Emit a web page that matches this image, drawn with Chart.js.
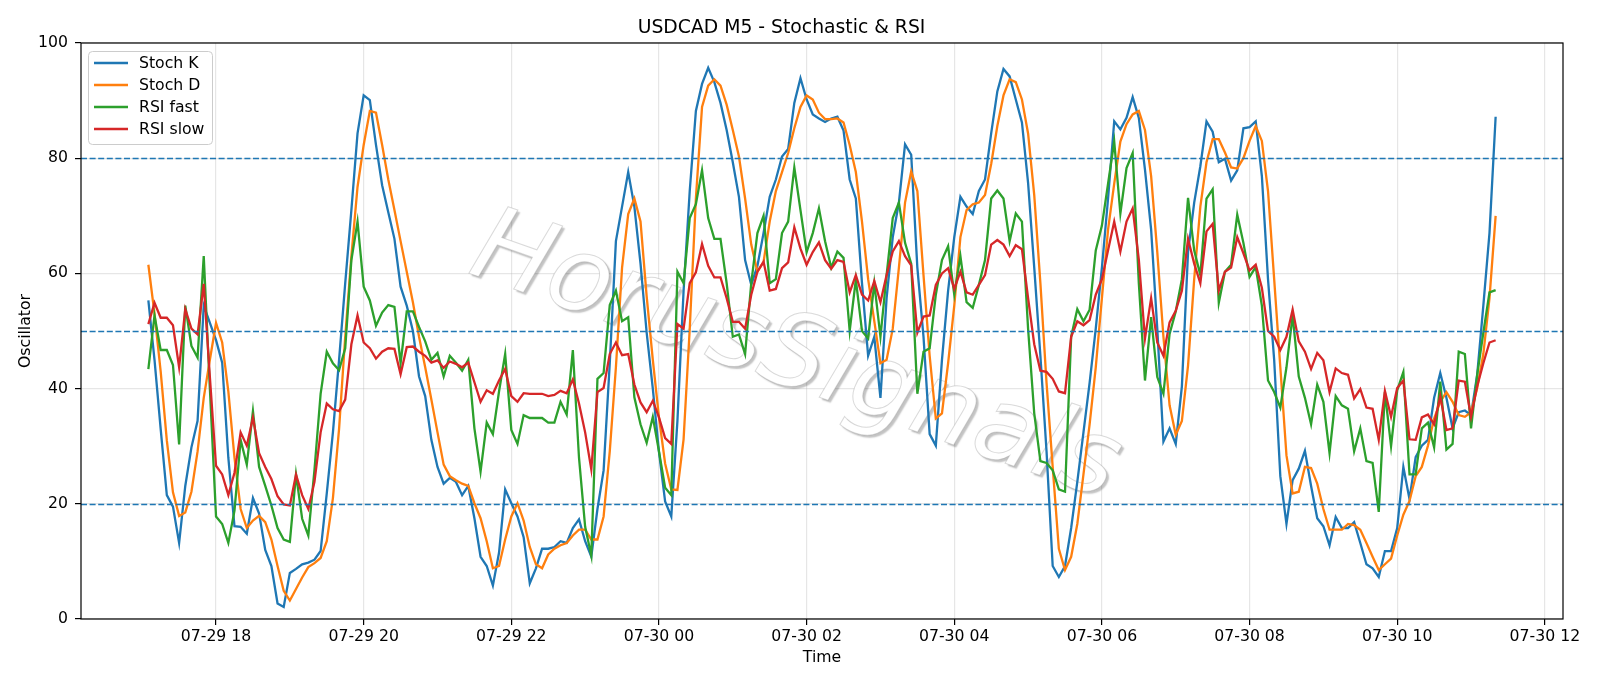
<!DOCTYPE html>
<html><head><meta charset="utf-8">
<script src="https://cdn.jsdelivr.net/npm/chart.js@4.4.1/dist/chart.umd.min.js"></script>
<style>html,body{margin:0;padding:0;background:#fff;}canvas{display:block;}</style>
</head><body>
<canvas id="c" width="1600" height="686"></canvas>
<script>
// ---- data (M5 bars starting 07-29 17:05) ----
const startHour = 17 + 5/60;      // hours since 07-29 00:00
const barMinutes = 5;
const stochK = [
55.3,45,33,21.5,19.5,13.2,23.1,29.8,34.4,54.4,
51.4,48.4,44.5,28,16.1,16.0,14.8,21.0,18.3,12.0,
9.2,2.7,2.1,8.0,8.7,9.5,9.8,10.3,11.8,21.8,
32.4,45,58.3,71,84.3,90.9,90.1,82.3,75.3,70.6,
66.0,57.7,54.4,50.0,42.1,38.7,31.1,26.4,23.5,24.5,
23.8,21.5,23.1,17.5,10.8,9.2,5.8,11.5,22.5,20.1,
17.8,14.2,6.2,8.8,12.2,12.2,12.5,13.5,13.2,15.8,
17.3,13.5,10.8,19.1,25.8,44.4,65.6,71.6,77.6,71.6,
61.7,49.7,40,29,20.4,17.8,34.4,57,74.3,88.2,
92.9,95.7,93.2,89.6,84.9,79.3,73.3,62.3,58.0,61.3,
67,73.3,76.3,80.3,81.6,89.6,93.9,90.2,87.6,86.9,
86.3,86.9,87.2,84.8,76.3,73.0,58.3,45.7,49.0,38.4,
55.7,66.3,72.3,82.4,80.6,61,49,32.1,30.1,45,
57,66.3,73.3,71.6,70.3,74.3,76.3,84.3,91.6,95.5,
94.2,90.2,86.2,75.7,61,45.7,29.1,9.2,7.3,9.2,
15.8,23.8,32.4,41,50.4,61,73,86.4,85,87.0,
90.6,87.0,78,67.6,50.4,30.8,33.1,30.4,40.4,63.7,
72.3,78.6,86.4,84.6,79.3,79.9,76.1,77.9,85.2,85.4,
86.4,76.9,59,45,24.8,16.5,24.1,26.1,29.2,23.1,
17.5,16.1,12.8,17.7,15.8,15.8,16.8,13.2,9.5,8.8,
7.3,11.8,11.8,15.8,26.4,20.8,28.1,30.1,31.1,38.4,
42.7,38.4,33.1,35.9,36.2,35.4,42.4,54.4,67,87.2];
const stochD = [
61.5,53,43,31,22,17.9,18.5,22.1,29.1,38.4,
45,51.4,48,39.5,28,19.1,15.8,17.1,17.9,16.8,
13.8,9.2,4.9,3.2,5.2,7.2,9.0,9.7,10.6,13.5,
21,33,49,63,75,82.3,88.2,87.9,82.3,76.3,
71.0,65.6,60.3,55.0,49.0,43.7,38.1,32.4,26.8,24.8,
24.1,23.5,23.1,20.1,17.5,13.5,8.8,9.2,13.8,17.8,
20.1,17.1,12.5,9.5,8.8,11.2,12.2,12.8,13.2,14.5,
15.5,15.5,13.8,13.8,17.8,29.1,43.7,61.0,70.3,73.0,
69.0,56,45,35,27,22.5,22.4,31.2,50.4,73,
88.9,92.6,93.7,92.6,89.3,84.9,80.3,73.0,65,60.3,
62,69,74.3,77.6,80.9,85.2,88.9,90.9,90.2,87.9,
86.8,86.8,86.9,86.2,82.3,77.6,69,59,51.7,44.4,
45.0,50.4,61.0,72.3,77.7,74.3,59.7,45.7,34.8,35.7,
44.4,54.4,66.3,71.0,72.0,72.3,73.6,79,85.6,90.9,
93.7,93.2,90.2,84.3,73.6,58.3,41,26.4,12.2,8.5,
10.8,16.5,25.1,33.8,43.7,55.7,67.6,75.6,82.9,85.9,
87.6,88.2,84.9,76.9,63.7,49,37.1,32,34.4,44,
59,71.6,79.3,83.3,83.3,81,78.4,78.2,80,83,
85.6,83,74.3,59,43.7,28.4,21.8,22.1,26.4,26.2,
23.5,19.1,15.5,15.5,15.5,16.5,16.3,15.5,13.2,10.8,
8.5,9.5,10.5,14.5,18.1,20.5,24.8,26.4,30.1,34.8,
37.7,39.4,37.7,35.4,35.1,35.9,40.1,46,55.7,70.0];
const rsiFast = [
43.4,52.7,46.7,46.7,44.1,30.3,54.4,47.4,45.4,63.0,
40,17.8,16.5,13.2,18.8,31.1,26.8,36.1,26.4,23.1,
19.7,15.8,13.8,13.4,25.1,17.4,14.5,25.9,39.1,46.4,
44.4,43.2,47.0,62.3,69.0,57.7,55.3,50.9,53.2,54.5,
54.2,44.4,53.4,53.4,50.7,48.2,45.0,46.2,42.1,45.7,
44.5,43.1,45.0,33.1,25.6,34.1,32.1,39.5,46.0,32.8,
30.4,35.4,34.9,34.9,34.9,34.1,34.1,37.7,35.5,46.7,
28,16,11,41.7,42.7,54.5,57.0,51.7,52.4,38.5,
33.8,30.6,35.1,29.1,22.8,21.5,60.3,58.3,69.6,72,
77.9,69.6,66,66,58.3,49.0,49.4,46.0,58.3,67.0,
70.0,58.3,59,67,69,78.4,71,63.7,67,71.3,
65.6,61,63.8,62.7,50,58.9,50,48.7,58.3,49.0,
59.7,69.6,72.3,65.3,61.7,39.1,46.4,47.0,56.3,62.3,
64.7,56.3,63,55,54,58,62.3,73,74.4,73,
65.6,70.4,69,50.4,35.7,27.4,27.1,25.8,22.5,22.1,
49,53.8,51.7,53.7,64,68.3,75.6,82.9,70.4,78.3,
80.9,58.3,41.4,52.4,42,39.1,49.5,53.4,59,73.1,
64,59.7,73,74.6,54.9,60.3,61.5,70.2,65.3,59.4,
61.1,54.4,41.4,39.4,36.7,43.7,52.7,42.1,38.4,33.8,
40.7,37.7,28.8,38.7,37.1,36.5,29.1,33.1,27.4,27.1,
18.6,39.4,30,39.7,42.9,25.1,25.1,33.1,34.1,29.8,
41.2,29.4,30.4,46.4,46,33.1,42.4,49.7,56.7,57.1];
const rsiSlow = [
51.2,54.9,52.3,52.3,51.0,43.7,53.8,50.4,49.4,58.2,
42,26.6,25.1,21.5,25.4,32.4,30.1,35.0,28.8,26.4,
24.3,21.3,19.9,19.7,25.1,21.5,19.1,23.8,32.4,37.4,
36.4,36.1,38.1,47.7,52.7,48.0,47.0,45.2,46.4,47.0,
46.9,42.5,47.2,47.3,46.4,45.7,44.5,44.9,43.6,44.7,
44.3,43.7,44.5,41.1,37.7,39.7,39.1,41.4,43.4,38.7,
37.7,39.2,39.1,39.1,39.1,38.7,38.9,39.6,39.2,41.6,
37.4,32.4,26,39.4,40.1,46.0,48.0,45.8,46.0,40.7,
37.6,35.9,37.9,35,31.4,30.4,51.2,50.4,58.3,60.2,
65.1,61.3,59.3,59.3,55.7,51.6,51.6,50.4,56.3,60.3,
62,57,57.3,60.9,61.9,68.0,64.3,61.5,63.7,65.4,
62.3,60.8,62.3,62,56.7,59.7,56.3,55.3,58.7,55,
59.7,63.8,65.6,63,61.4,49.7,52.5,52.7,58,60,
60.9,57.3,60.3,56.7,56.3,58,59.7,65,65.8,65,
63,64.9,64.2,55.7,47.7,43.1,42.9,41.7,39.5,39.2,
49,51.7,51,51.9,56.3,59,64,69,63.8,69,
71.3,62.4,48.7,55.7,48,45.7,51.5,53.5,57,66,
61.7,58.3,67.3,68.6,57,60.3,61,66.3,63.5,60.5,
61.5,57.5,50.0,49,46.7,49,53.7,48.2,46.4,43.4,
46.2,44.9,39.4,43.5,42.7,42.4,38.3,39.9,36.7,36.5,
31.1,39.6,35.1,40.1,41.4,31.2,31.1,35.0,35.5,33.8,
38.7,32.8,33.1,41.4,41.2,35.1,40.4,44.4,48,48.4];
const tickHours  = [18,20,22,24,26,28,30,32,34,36];
const tickLabels = ['07-29 18','07-29 20','07-29 22','07-30 00','07-30 02','07-30 04','07-30 06','07-30 08','07-30 10','07-30 12'];
const yTicks = [0,20,40,60,80,100];
const levels = [20,50,80];
const seriesNames = ['Stoch K','Stoch D','RSI fast','RSI slow'];
const watermark = 'HorusSignals';
// -------------------------------------------

const FONT = "'DejaVu Sans'";
Chart.defaults.font.family = FONT;
Chart.defaults.color = '#000';

const times = stochK.map((_, i) => startHour + i * barMinutes / 60);
const xMin = times[0] - 0.05 * (times[times.length-1] - times[0]);
const xMax = times[times.length-1] + 0.05 * (times[times.length-1] - times[0]);
const toXY = arr => arr.map((v, i) => ({x: times[i], y: v}));

const colors = ['#1f77b4', '#ff7f0e', '#2ca02c', '#d62728'];
const allSeries = [stochK, stochD, rsiFast, rsiSlow];

const overlay = {
  id: 'overlay',
  beforeDatasetsDraw(chart) {
    const c = chart.ctx;
    c.save();
    c.translate(795, 360);
    c.rotate(19.5 * Math.PI / 180);
    c.font = "oblique 104px " + FONT;
    c.textAlign = 'center';
    c.textBaseline = 'middle';
    c.shadowColor = 'rgba(0,0,0,0.24)';
    c.shadowOffsetX = 2.5;
    c.shadowOffsetY = 2.5;
    c.shadowBlur = 1.5;
    c.fillStyle = '#ffffff';
    c.fillText(watermark, 0, 0);
    c.shadowColor = 'rgba(0,0,0,0)';
    c.strokeStyle = 'rgba(150,150,150,0.35)';
    c.lineWidth = 1;
    c.strokeText(watermark, 0, 0);
    c.restore();
  },
  afterDatasetsDraw(chart) {
    const c = chart.ctx, a = chart.chartArea, ys = chart.scales.y;
    c.save();
    c.strokeStyle = '#1f77b4';
    c.lineWidth = 1.6;
    c.setLineDash([6, 2.6]);
    levels.forEach(lv => {
      const y = Math.round(ys.getPixelForValue(lv)) + 0.5;
      c.beginPath(); c.moveTo(a.left, y); c.lineTo(a.right, y); c.stroke();
    });
    c.setLineDash([]);
    // frame
    c.strokeStyle = '#000';
    c.lineWidth = 1.2;
    c.strokeRect(a.left, a.top, a.right - a.left, a.bottom - a.top);
    // legend
    const x0 = a.left + 7, y0 = a.top + 8, w = 124, h = 93;
    c.beginPath();
    c.roundRect(x0 + 0.5, y0 + 0.5, w, h, 4);
    c.fillStyle = 'rgba(255,255,255,0.8)';
    c.fill();
    c.strokeStyle = '#cccccc';
    c.lineWidth = 1;
    c.stroke();
    c.font = "15.7px " + FONT;
    c.textBaseline = 'middle';
    chart.data.datasets.forEach((ds, k) => {
      const y = y0 + 12 + 22 * k;
      c.strokeStyle = ds.borderColor;
      c.lineWidth = 2.3;
      c.beginPath(); c.moveTo(x0 + 6, y); c.lineTo(x0 + 40, y); c.stroke();
      c.fillStyle = '#000';
      c.fillText(ds.label, x0 + 51, y + 1);
    });
    c.restore();
  }
};

new Chart(document.getElementById('c'), {
  type: 'line',
  data: {
    datasets: allSeries.map((s, k) => ({
      label: seriesNames[k],
      data: toXY(s),
      borderColor: colors[k],
      backgroundColor: colors[k],
      borderWidth: 2.3,
      pointRadius: 0,
      tension: 0,
      fill: false,
      order: 3 - k
    }))
  },
  options: {
    responsive: false,
    animation: false,
    devicePixelRatio: 1,
    layout: {padding: {left: 0, right: 37, top: 0, bottom: 0}},
    plugins: {
      legend: {display: false},
      tooltip: {enabled: false},
      title: {
        display: true,
        text: 'USDCAD M5 - Stochastic & RSI',
        color: '#000',
        font: {size: 18.8, weight: 'normal', lineHeight: 1},
        padding: {top: 18.4, bottom: 5.8}
      }
    },
    scales: {
      x: {
        type: 'linear',
        min: xMin,
        max: xMax,
        afterBuildTicks: axis => { axis.ticks = tickHours.map(v => ({value: v})); },
        afterFit: s => { s.height = 67; },
        ticks: {
          autoSkip: false, maxRotation: 0, minRotation: 0,
          font: {size: 15.7}, color: '#000', padding: 3,
          callback: v => tickLabels[tickHours.indexOf(v)]
        },
        grid: {color: 'rgba(176,176,176,0.32)', lineWidth: 1.2, tickLength: 6, tickColor: '#000', tickWidth: 1.2},
        border: {display: false},
        title: {display: true, text: 'Time', font: {size: 15.7}, color: '#000', padding: {top: 0, bottom: 19}}
      },
      y: {
        min: 0, max: 100,
        afterBuildTicks: axis => { axis.ticks = yTicks.map(v => ({value: v})); },
        afterFit: s => { s.width = 81; },
        ticks: {font: {size: 15.7}, color: '#000', padding: 7},
        grid: {color: 'rgba(176,176,176,0.32)', lineWidth: 1.2, tickLength: 6, tickColor: '#000', tickWidth: 1.2},
        border: {display: false},
        title: {display: true, text: 'Oscillator', font: {size: 15.7}, color: '#000', padding: {top: 17, bottom: 0}}
      }
    }
  },
  plugins: [overlay]
});
</script>
</body></html>
